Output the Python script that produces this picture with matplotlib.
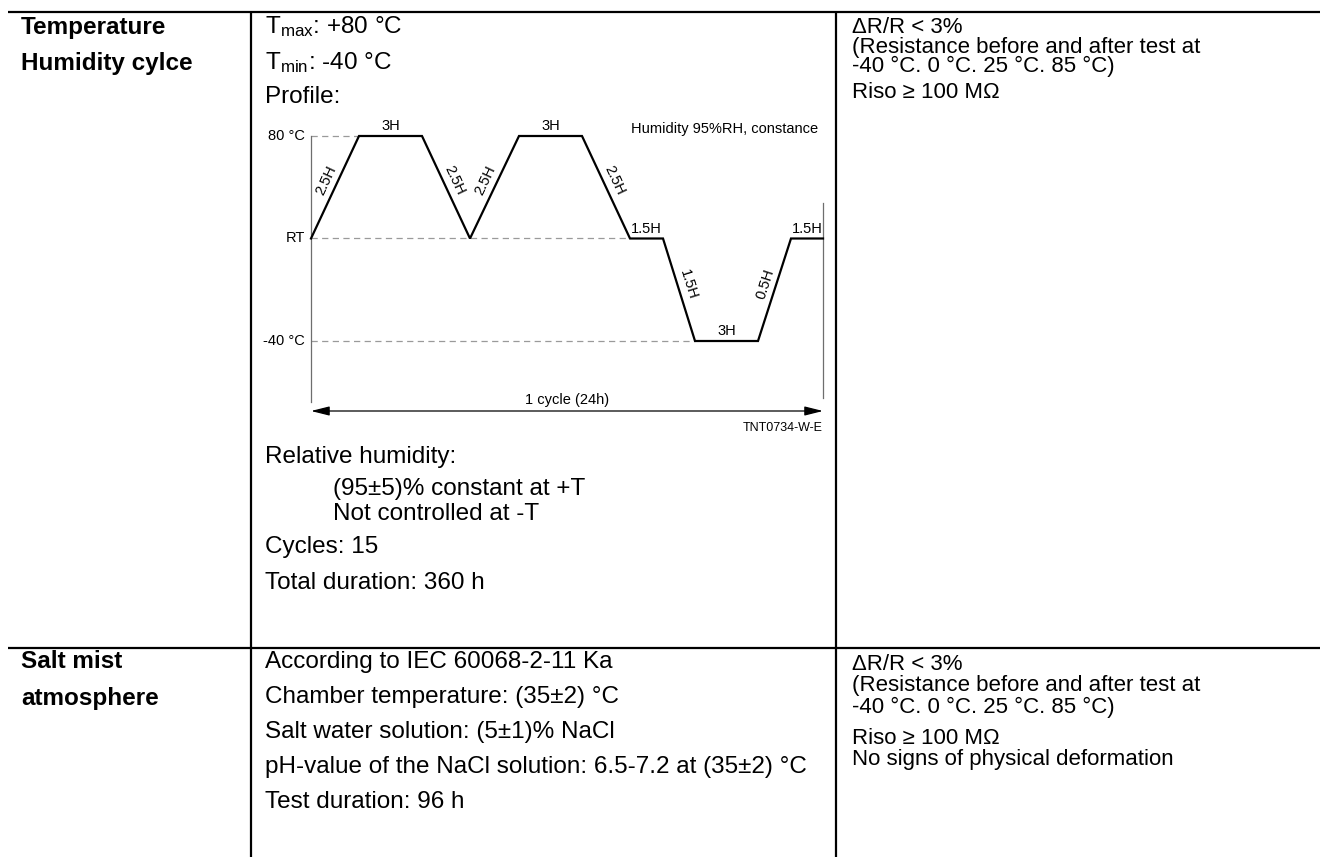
import numpy as np
import matplotlib
matplotlib.use("Agg")
import matplotlib.pyplot as plt

plt.rcParams["font.family"] = ["Liberation Sans", "DejaVu Sans"]
plt.rcParams["mathtext.fontset"] = "custom"
plt.rcParams["mathtext.rm"] = "Liberation Sans"
plt.rcParams["mathtext.it"] = "Liberation Sans:italic"
plt.rcParams["mathtext.bf"] = "Liberation Sans:bold"

# --- profile (schematic, drawn widths are not to scale with the hours) ---
seg_labels = ["2.5H", "3H", "2.5H", "2.5H", "3H", "2.5H", "1.5H", "1.5H", "3H", "0.5H", "1.5H"]
seg_widths = [48, 63, 48, 49, 63, 48, 33, 32, 63, 33, 32]
T_HIGH, T_RT, T_LOW = 80, 20, -40
profile_temps = [T_RT, T_HIGH, T_HIGH, T_RT, T_HIGH, T_HIGH, T_RT, T_RT, T_LOW, T_LOW, T_RT, T_RT]
level_labels = ["80 °C", "RT", "-40 °C"]
level_values = [T_HIGH, T_RT, T_LOW]

# --- table text ---
row1_title = ["Temperature", "Humidity cylce"]
row1_cond_top = [r"T$_{\mathrm{max}}$: +80 °C", r"T$_{\mathrm{min}}$: -40 °C", "Profile:"]
row1_cond_bottom = ["Relative humidity:", "(95±5)% constant at +T", "Not controlled at -T",
                    "Cycles: 15", "Total duration: 360 h"]
row1_result = ["ΔR/R < 3%", "(Resistance before and after test at", "-40 °C. 0 °C. 25 °C. 85 °C)",
               "Riso ≥ 100 MΩ"]
row2_title = ["Salt mist", "atmosphere"]
row2_cond = ["According to IEC 60068-2-11 Ka", "Chamber temperature: (35±2) °C",
             "Salt water solution: (5±1)% NaCl", "pH-value of the NaCl solution: 6.5-7.2 at (35±2) °C",
             "Test duration: 96 h"]
row2_result = ["ΔR/R < 3%", "(Resistance before and after test at", "-40 °C. 0 °C. 25 °C. 85 °C)",
               "Riso ≥ 100 MΩ", "No signs of physical deformation"]

W, H = 1320, 857
fig = plt.figure(figsize=(W / 100, H / 100), dpi=100)
ax0 = fig.add_axes([0, 0, 1, 1])
ax0.set_xlim(0, W)
ax0.set_ylim(H, 0)
ax0.axis("off")

# table grid
lw_grid = 1.6
for y in [12, 648]:
    ax0.plot([8, W], [y, y], color="black", lw=lw_grid, solid_capstyle="butt")
for x in [251, 836]:
    ax0.plot([x, x], [12, H], color="black", lw=lw_grid, solid_capstyle="butt")

fs = 17.5
fs_r = 16

for y, s in zip([27, 63], row1_title):
    ax0.text(21, y, s, fontsize=fs, fontweight="bold", va="center")
for y, s in zip([662, 698], row2_title):
    ax0.text(21, y, s, fontsize=fs, fontweight="bold", va="center")

for y, s in zip([27, 63, 97], row1_cond_top):
    ax0.text(265, y, s, fontsize=fs, va="center")
for y, x, s in zip([457, 489, 514, 547, 583], [265, 333, 333, 265, 265], row1_cond_bottom):
    ax0.text(x, y, s, fontsize=fs, va="center")
for y, s in zip([662, 697, 732, 767, 802], row2_cond):
    ax0.text(265, y, s, fontsize=fs, va="center")

for y, s in zip([27, 47, 66, 92], row1_result):
    ax0.text(852, y, s, fontsize=fs_r, va="center")
for y, s in zip([664, 686, 707, 738, 760], row2_result):
    ax0.text(852, y, s, fontsize=fs_r, va="center")

# --- profile chart ---
CH_X0, CH_X1, CH_Y80, CH_YM40 = 311, 823, 136, 341
ax = fig.add_axes([CH_X0 / W, 1 - CH_YM40 / H, (CH_X1 - CH_X0) / W, (CH_YM40 - CH_Y80) / H])
xs = np.concatenate([[0], np.cumsum(seg_widths)])
ax.set_xlim(0, xs[-1])
ax.set_ylim(T_LOW, T_HIGH)
ax.axis("off")

deg_per_px = (T_HIGH - T_LOW) / (CH_YM40 - CH_Y80)
def y_at(px):
    return T_HIGH - (px - CH_Y80) * deg_per_px

chart_font = ["Liberation Sans Narrow", "Liberation Sans", "DejaVu Sans"]
fs_c = 10.5
grey = "#9a9a9a"

# dashed reference levels, up to where the profile first reaches them
for lv in level_values:
    first = xs[list(profile_temps).index(lv)] if lv != T_RT else xs[6]
    ax.plot([0, first], [lv, lv], color=grey, lw=0.9, dashes=(5, 3.5), clip_on=False)
for lab, lv in zip(level_labels, level_values):
    ax.text(-6, lv, lab, family=chart_font, fontsize=fs_c, ha="right", va="center")

ax.plot([0, 0], [T_HIGH, y_at(402)], color="#6e6e6e", lw=0.9, clip_on=False)
ax.plot([xs[-1], xs[-1]], [y_at(203), y_at(398)], color="#6e6e6e", lw=0.9, clip_on=False)

ax.plot(xs, profile_temps, color="black", lw=1.6, clip_on=False, solid_joinstyle="miter")

# segment labels
for i, lab in enumerate(seg_labels):
    x_a, x_b = xs[i], xs[i + 1]
    y_a, y_b = profile_temps[i], profile_temps[i + 1]
    xm, ym = (x_a + x_b) / 2, (y_a + y_b) / 2
    if y_a == y_b:
        ax.annotate(lab, (xm, ym), xytext=(0, 7), textcoords="offset points",
                    ha="center", va="center", family=chart_font, fontsize=fs_c,
                    annotation_clip=False)
    else:
        pa = ax.transData.transform((x_a, y_a))
        pb = ax.transData.transform((x_b, y_b))
        d = pb - pa
        ang = np.degrees(np.arctan2(d[1], d[0]))
        n = np.array([-d[1], d[0]]) / np.hypot(*d)
        if n[1] < 0:
            n = -n
        off = n * 7
        ax.annotate(lab, (xm, ym), xytext=(off[0], off[1] + 2), textcoords="offset points",
                    rotation=ang, rotation_mode="anchor", ha="center", va="center",
                    family=chart_font, fontsize=fs_c, annotation_clip=False)

ax.text(xs[-1] - 5, y_at(129), "Humidity 95%RH, constance", family=chart_font,
        fontsize=fs_c, ha="right", va="center")

y_arrow = y_at(411)
ax.annotate("", xy=(0, y_arrow), xytext=(xs[-1], y_arrow),
            arrowprops=dict(arrowstyle="<|-|>,head_length=0.8,head_width=0.2", color="black",
                            lw=0.9, mutation_scale=14, shrinkA=0, shrinkB=0),
            annotation_clip=False)
ax.text(567 - CH_X0, y_at(400), "1 cycle (24h)", family=chart_font, fontsize=fs_c,
        ha="center", va="center")
ax.text(xs[-1], y_at(428), "TNT0734-W-E", family=chart_font, fontsize=9,
        ha="right", va="center")

fig.savefig("out.png", dpi=100)
